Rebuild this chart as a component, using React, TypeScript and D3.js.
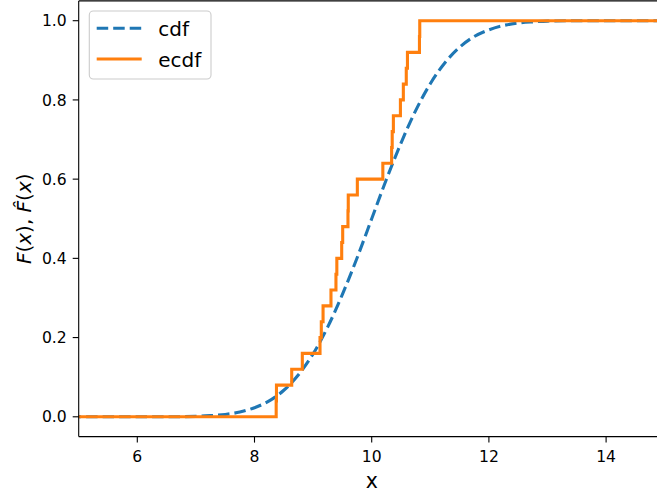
import React from "react";
import * as d3 from "d3";

// Sorted sample values behind the empirical CDF (25 draws)
const samples: number[] = [
  8.37, 8.375, 8.635, 8.816, 9.118, 9.14, 9.17, 9.305, 9.39, 9.405,
  9.488, 9.505, 9.595, 9.6, 9.755, 10.19, 10.34, 10.35, 10.37, 10.49,
  10.54, 10.59, 10.61, 10.815, 10.82,
];

// Theoretical CDF sampled along x
const cdfX: number[] = [
  4, 5, 6, 6.5, 7, 7.25, 7.5, 7.75, 8, 8.25, 8.5, 8.75, 9, 9.25, 9.5, 9.75,
  10, 10.25, 10.5, 10.75, 11, 11.25, 11.5, 11.75, 12, 12.25, 12.5, 12.75, 13,
  13.5, 14, 15, 16,
];
const cdfY: number[] = [
  0, 0, 0, 0, 0.001, 0.003, 0.006, 0.012, 0.023, 0.04, 0.067, 0.106, 0.159,
  0.227, 0.309, 0.401, 0.5, 0.599, 0.691, 0.773, 0.841, 0.894, 0.933, 0.96,
  0.977, 0.988, 0.994, 0.997, 0.999, 1, 1, 1, 1,
];

const xTicks: number[] = [6, 8, 10, 12, 14];
const yTicks: number[] = [0, 0.2, 0.4, 0.6, 0.8, 1.0];

const W = 657;
const H = 494;
const left = 78.7;
const right = 664.7;
const top = 0.9;
const bottom = 436.6;

const BLUE = "#1f77b4";
const ORANGE = "#ff7f0e";
const FONT = "DejaVu Sans, sans-serif";

export default function App() {
  const x = d3.scaleLinear().domain([5, 15]).range([left, right]);
  const y = d3.scaleLinear().domain([-0.05, 1.05]).range([bottom, top]);

  const cdfPts: [number, number][] = cdfX.map((v, i) => [v, cdfY[i]]);
  const cdfPath =
    d3
      .line<[number, number]>()
      .x((d) => x(d[0]))
      .y((d) => y(d[1]))
      .curve(d3.curveMonotoneX)(cdfPts) ?? "";

  const n = samples.length;
  const ecdfPts: [number, number][] = [[4, 0]];
  samples.forEach((s, i) => ecdfPts.push([s, (i + 1) / n]));
  ecdfPts.push([16, 1]);
  const ecdfPath =
    d3
      .line<[number, number]>()
      .x((d) => x(d[0]))
      .y((d) => y(d[1]))
      .curve(d3.curveStepAfter)(ecdfPts) ?? "";

  const lw = 3.1;

  return (
    <svg
      width={W}
      height={H}
      style={{ position: "absolute", left: 0, top: 0, background: "#fff" }}
      fontFamily={FONT}
    >
      <defs>
        <clipPath id="plotArea">
          <rect x={left} y={top} width={right - left} height={bottom - top} />
        </clipPath>
      </defs>
      <rect x={0} y={0} width={W} height={H} fill="#fff" />

      <g clipPath="url(#plotArea)">
        <path
          d={cdfPath}
          fill="none"
          stroke={BLUE}
          strokeWidth={lw}
          strokeDasharray="11.5 5"
        />
        <path
          d={ecdfPath}
          fill="none"
          stroke={ORANGE}
          strokeWidth={lw}
          strokeLinejoin="miter"
          strokeLinecap="square"
        />
      </g>

      {/* spines */}
      <line x1={left} x2={left} y1={top} y2={bottom} stroke="#000" strokeWidth={1.1} />
      <line x1={left} x2={right} y1={bottom} y2={bottom} stroke="#000" strokeWidth={1.1} />
      <line x1={left} x2={right} y1={top} y2={top} stroke="#000" strokeWidth={1.1} />
      <line x1={right} x2={right} y1={top} y2={bottom} stroke="#000" strokeWidth={1.1} />

      {/* x ticks */}
      {xTicks.map((t) => (
        <g key={`xt${t}`}>
          <line x1={x(t)} x2={x(t)} y1={bottom} y2={bottom + 6} stroke="#000" strokeWidth={1.1} />
          <text x={x(t)} y={bottom + 25} fontSize={15.6} textAnchor="middle" fill="#000">
            {t}
          </text>
        </g>
      ))}

      {/* y ticks */}
      {yTicks.map((t) => (
        <g key={`yt${t}`}>
          <line x1={left - 6} x2={left} y1={y(t)} y2={y(t)} stroke="#000" strokeWidth={1.1} />
          <text
            x={left - 12}
            y={y(t)}
            dy="0.36em"
            fontSize={15.6}
            textAnchor="end"
            fill="#000"
          >
            {t.toFixed(1)}
          </text>
        </g>
      ))}

      {/* axis labels */}
      <text x={(left + right) / 2} y={487.5} fontSize={20.5} textAnchor="middle" fill="#000">
        x
      </text>
      <text
        transform={`translate(31, ${(top + bottom) / 2}) rotate(-90)`}
        fontSize={20}
        textAnchor="middle"
        fill="#000"
      >
        <tspan fontStyle="italic">F</tspan>
        <tspan>(</tspan>
        <tspan fontStyle="italic">x</tspan>
        <tspan>), </tspan>
        <tspan fontStyle="italic">{"F\u0302"}</tspan>
        <tspan>(</tspan>
        <tspan fontStyle="italic">x</tspan>
        <tspan>)</tspan>
      </text>

      {/* legend */}
      <g>
        <rect
          x={89.3}
          y={11}
          width={121.7}
          height={68}
          rx={4}
          fill="#fff"
          fillOpacity={0.8}
          stroke="#cccccc"
          strokeWidth={1.1}
        />
        <line
          x1={96.7}
          x2={141.7}
          y1={28.3}
          y2={28.3}
          stroke={BLUE}
          strokeWidth={lw}
          strokeDasharray="11.5 5"
        />
        <text x={158.3} y={35.7} fontSize={20} fill="#000">
          cdf
        </text>
        <line x1={96.7} x2={141.7} y1={59} y2={59} stroke={ORANGE} strokeWidth={lw} />
        <text x={158.3} y={66.7} fontSize={20} fill="#000">
          ecdf
        </text>
      </g>
    </svg>
  );
}
